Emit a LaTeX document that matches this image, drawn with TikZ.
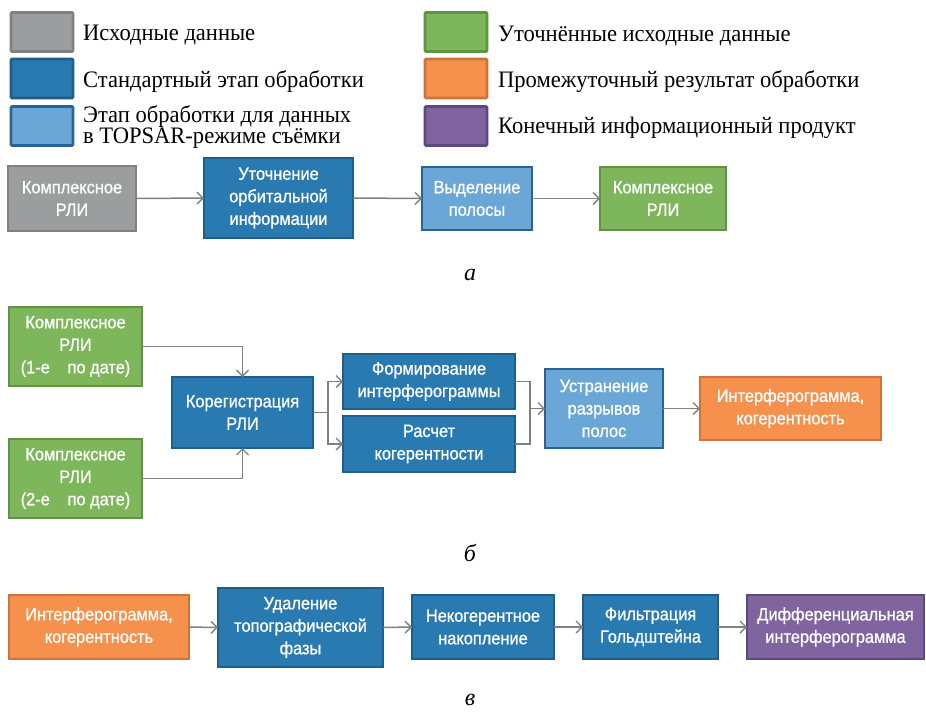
\documentclass[tikz,border=0pt]{standalone}
\usepackage{fontspec}
\setmainfont{Liberation Serif}
\newfontfamily\legfont[FakeStretch=0.955]{Liberation Serif}
\newfontfamily\boxfont[FakeStretch=0.92,FakeBold=0.9]{Liberation Sans}
\usetikzlibrary{arrows.meta}
\definecolor{cgray}{HTML}{9B9D9E}\definecolor{bgray}{HTML}{7E8081}
\definecolor{cblue}{HTML}{2A7AB2}\definecolor{bblue}{HTML}{1E5E8E}
\definecolor{clblue}{HTML}{6BA7D6}\definecolor{blblue}{HTML}{2A6496}
\definecolor{cgreen}{HTML}{7EB65B}\definecolor{bgreen}{HTML}{5F9440}
\definecolor{corange}{HTML}{F5914C}\definecolor{borange}{HTML}{CF733A}
\definecolor{cpurple}{HTML}{7F64A0}\definecolor{bpurple}{HTML}{5E4880}
\definecolor{arrgray}{HTML}{808080}
\begin{document}
\begin{tikzpicture}[x=1pt,y=-1pt,
  bx/.style={rectangle, draw, line width=2.2pt, inner sep=0pt, outer sep=0pt, text=white, align=center,
    font=\boxfont\fontsize{17.8}{22.5}\selectfont},
  graybx/.style={bx, fill=cgray, draw=bgray},
  bluebx/.style={bx, fill=cblue, draw=bblue},
  lbluebx/.style={bx, fill=clblue, draw=blblue},
  greenbx/.style={bx, fill=cgreen, draw=bgreen},
  orangebx/.style={bx, fill=corange, draw=borange},
  purplebx/.style={bx, fill=cpurple, draw=bpurple},
  sw/.style={rectangle, draw, line width=2.6pt, minimum width=62pt, minimum height=39pt, inner sep=0pt, rounded corners=1pt},
  legtxt/.style={anchor=west, inner sep=0pt, align=left, font=\legfont\fontsize{23.6}{21}\selectfont},
  sub/.style={font=\itshape\fontsize{24}{24}\selectfont, inner sep=0pt},
  arr/.style={draw=arrgray, line width=1.5pt, -{Straight Barb[length=6pt,width=12pt,line width=1.4pt]}},
  ln/.style={draw=arrgray, line width=1.5pt}
]
\useasboundingbox (0,0) rectangle (926,713);
\fill[white] (0,0) rectangle (926,713);

% legend
\node[sw, fill=cgray, draw=bgray] (s1) at (42,32) {};
\node[sw, fill=cblue, draw=bblue] (s2) at (42,78.5) {};
\node[sw, fill=clblue, draw=blblue] (s3) at (42,126) {};
\node[sw, fill=cgreen, draw=bgreen] (s4) at (456,32) {};
\node[sw, fill=corange, draw=borange] (s5) at (456,78.5) {};
\node[sw, fill=cpurple, draw=bpurple] (s6) at (456,126) {};
\node[legtxt] (t1) at (83,35) {Исходные данные};
\node[legtxt] (t2) at (83,82) {Стандартный этап обработки};
\node[legtxt, font=\legfont\fontsize{23.6}{20.5}\selectfont] (t3) at (83,127) {Этап обработки для данных\\в TOPSAR-режиме съёмки};
\node[legtxt] (t4) at (498,36) {Уточнённые исходные данные};
\node[legtxt] (t5) at (498,82) {Промежуточный результат обработки};
\node[legtxt] (t6) at (498,128) {Конечный информационный продукт};

% part a
\node[graybx, minimum width=128pt, minimum height=65pt] (a1) at (72,198.5) {Комплексное\\РЛИ};
\node[bluebx, minimum width=149pt, minimum height=80pt] (a2) at (278.5,198) {Уточнение\\орбитальной\\информации};
\node[lbluebx, minimum width=110pt, minimum height=63pt] (a3) at (477,198.5) {Выделение\\полосы};
\node[greenbx, minimum width=126pt, minimum height=63pt] (a4) at (663,198.5) {Комплексное\\РЛИ};
\draw[arr] (a1.east) -- (a2.west);
\draw[arr] (a2.east) -- (a3.west);
\draw[arr] (a3.east) -- (a4.west);
\node[sub] (la) at (470,275) {а};

% part b
\node[greenbx, minimum width=133pt, minimum height=79pt] (b1) at (75.5,346.5) {Комплексное\\РЛИ\\(1-е\quad по дате)};
\node[greenbx, minimum width=133pt, minimum height=79pt] (b2) at (75.5,478.5) {Комплексное\\РЛИ\\(2-е\quad по дате)};
\node[bluebx, minimum width=141pt, minimum height=71pt] (b3) at (242.5,412.5) {Корегистрация\\РЛИ};
\node[bluebx, minimum width=172pt, minimum height=55pt] (b4) at (429,381.5) {Формирование\\интерферограммы};
\node[bluebx, minimum width=172pt, minimum height=56pt] (b5) at (429,444) {Расчет\\когерентности};
\node[lbluebx, minimum width=118pt, minimum height=79pt] (b6) at (604,408.5) {Устранение\\разрывов\\полос};
\node[orangebx, minimum width=181pt, minimum height=63pt] (b7) at (790.5,408.5) {Интерферограмма,\\когерентность};
\coordinate (br) at (328,412.5);
\coordinate (mg) at (530,408.5);
\draw[arr] (b1.east) -| (b3.north);
\draw[arr] (b2.east) -| (b3.south);
\draw[ln] (b3.east) -- (br);
\draw[arr] (br) |- (b4.west);
\draw[arr] (br) |- (b5.west);
\draw[ln] (b4.east) -| (mg);
\draw[ln] (b5.east) -| (mg);
\draw[arr] (mg) -- (b6.west);
\draw[arr] (b6.east) -- (b7.west);
\node[sub] (lb) at (470,553) {б};

% part c
\node[orangebx, minimum width=180pt, minimum height=64pt] (c1) at (99,627) {Интерферограмма,\\когерентность};
\node[bluebx, minimum width=165pt, minimum height=79pt] (c2) at (300.5,627.5) {Удаление\\топографической\\фазы};
\node[bluebx, minimum width=142pt, minimum height=64pt] (c3) at (483,627) {Некогерентное\\накопление};
\node[bluebx, minimum width=135pt, minimum height=64pt] (c4) at (650.5,627) {Фильтрация\\Гольдштейна};
\node[purplebx, minimum width=177pt, minimum height=64pt] (c5) at (835.5,627) {Дифференциальная\\интерферограмма};
\draw[arr] (c1.east) -- (c2.west);
\draw[arr] (c2.east) -- (c3.west);
\draw[arr] (c3.east) -- (c4.west);
\draw[arr] (c4.east) -- (c5.west);
\node[sub] (lc) at (470,700) {в};
\end{tikzpicture}
\end{document}
